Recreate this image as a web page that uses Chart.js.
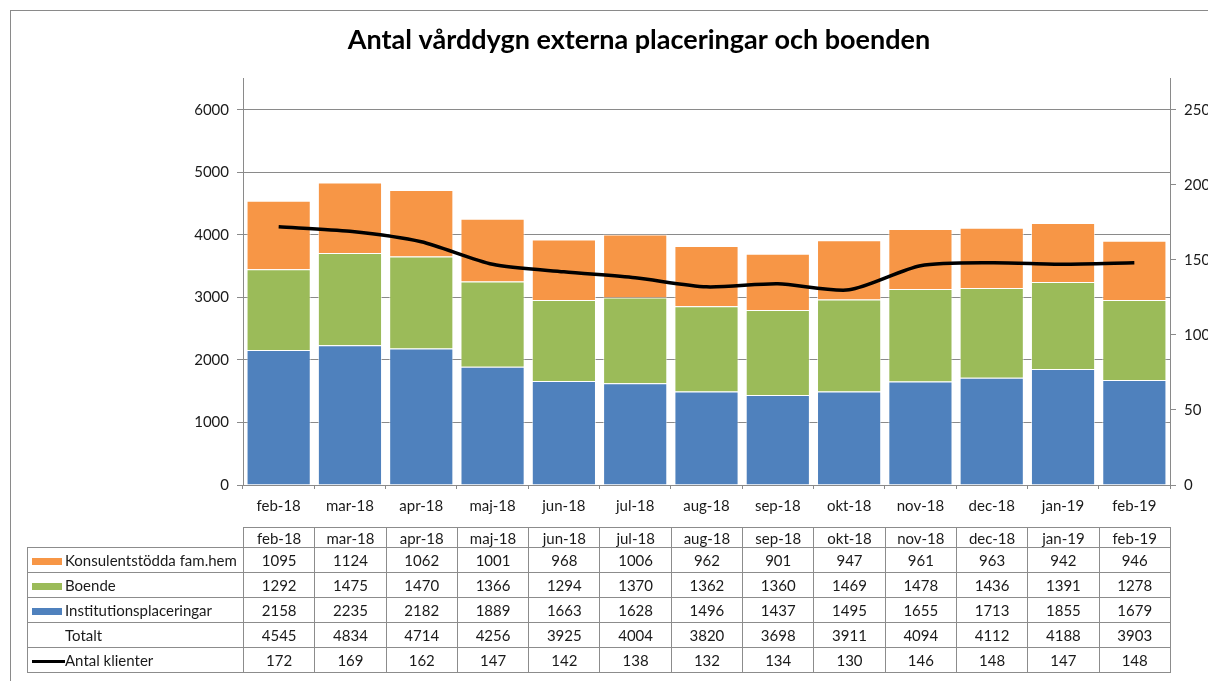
<!DOCTYPE html>
<html lang="sv">
<head>
    <meta charset="UTF-8">
    <title>Antal vårddygn externa placeringar och boenden</title>
    <script src="https://cdn.jsdelivr.net/npm/chart.js"></script>
    <style>
        html, body {
            margin: 0;
            padding: 0;
            width: 1208px;
            height: 681px;
            overflow: hidden;
            background: #fff;
            font-family: Lato, "Open Sans", sans-serif;
        }
        #frame {
            position: absolute;
            left: 10px;
            top: 10px;
            width: 1300px;
            height: 800px;
            border: 1px solid #8a8a8a;
            box-sizing: border-box;
        }
        #wrap {
            position: absolute;
            left: 0;
            top: 0;
            width: 1208px;
            height: 681px;
        }
        #dataTable {
            position: absolute;
            border-collapse: collapse;
            table-layout: fixed;
            font-size: 15px;
            color: #1a1a1a;
        }
        #dataTable td {
            border: 1px solid #8c8c8c;
            text-align: center;
            padding: 0;
            white-space: nowrap;
            overflow: hidden;
        }
        #dataTable td.lbl {
            text-align: left;
            padding-left: 4px;
        }
        #dataTable td.empty {
            border: none;
        }
        .key {
            display: inline-block;
            width: 30px;
            height: 7px;
            margin-right: 3px;
            vertical-align: middle;
            position: relative;
            top: -1px;
        }
        .keyLine {
            display: inline-block;
            width: 33px;
            height: 3px;
            background: #000;
            vertical-align: middle;
            position: relative;
            top: -1px;
        }
    </style>
</head>
<body>
    <div id="frame"></div>
    <div id="wrap"><canvas id="myChart" width="1208" height="681"></canvas></div>
    <table id="dataTable"></table>

    <script>
        const months = ['feb-18', 'mar-18', 'apr-18', 'maj-18', 'jun-18', 'jul-18', 'aug-18',
                        'sep-18', 'okt-18', 'nov-18', 'dec-18', 'jan-19', 'feb-19'];
        const konsulent = [1095, 1124, 1062, 1001, 968, 1006, 962, 901, 947, 961, 963, 942, 946];
        const boende = [1292, 1475, 1470, 1366, 1294, 1370, 1362, 1360, 1469, 1478, 1436, 1391, 1278];
        const institution = [2158, 2235, 2182, 1889, 1663, 1628, 1496, 1437, 1495, 1655, 1713, 1855, 1679];
        const totalt = [4545, 4834, 4714, 4256, 3925, 4004, 3820, 3698, 3911, 4094, 4112, 4188, 3903];
        const klienter = [172, 169, 162, 147, 142, 138, 132, 134, 130, 146, 148, 147, 148];
        const leftTicks = [0, 1000, 2000, 3000, 4000, 5000, 6000];
        const rightTicks = [0, 50, 100, 150, 200, 250];

        const orange = '#F79646';
        const green = '#9BBB59';
        const blue = '#4F81BD';
        const gridGray = '#8a8a8a';
        const fontFam = 'Lato, "Open Sans", sans-serif';

        // plot area in the picture: x 243..1170, y 78..485
        const leftMax = 6500;
        const rightMax = 250 * leftMax / 6000;
        const padLeft = 70;

        const ctx = document.getElementById('myChart').getContext('2d');
        const chart = new Chart(ctx, {
            data: {
                labels: months,
                datasets: [
                    {
                        type: 'line',
                        label: 'Antal klienter',
                        data: klienter,
                        yAxisID: 'y1',
                        borderColor: '#000',
                        borderWidth: 3.5,
                        pointRadius: 0,
                        tension: 0.25,
                        fill: false,
                        order: 0
                    },
                    {
                        type: 'bar',
                        label: 'Institutionsplaceringar',
                        data: institution,
                        backgroundColor: blue,
                        borderColor: 'rgba(255,255,255,0.6)',
                        borderWidth: 1,
                        stack: 's',
                        order: 1
                    },
                    {
                        type: 'bar',
                        label: 'Boende',
                        data: boende,
                        backgroundColor: green,
                        borderColor: 'rgba(255,255,255,0.6)',
                        borderWidth: 1,
                        stack: 's',
                        order: 1
                    },
                    {
                        type: 'bar',
                        label: 'Konsulentstödda fam.hem',
                        data: konsulent,
                        backgroundColor: orange,
                        borderColor: 'rgba(255,255,255,0.6)',
                        borderWidth: 1,
                        stack: 's',
                        order: 1
                    }
                ]
            },
            options: {
                responsive: false,
                animation: false,
                datasets: {
                    bar: { barPercentage: 0.9, categoryPercentage: 1.0 }
                },
                layout: {
                    padding: { top: 10, left: padLeft, right: 0, bottom: 166 }
                },
                plugins: {
                    legend: { display: false },
                    tooltip: { enabled: false },
                    title: {
                        display: true,
                        text: 'Antal vårddygn externa placeringar och boenden',
                        color: '#000',
                        font: { family: fontFam, size: 27, weight: 'bold', lineHeight: 1.2 },
                        padding: { top: 14, bottom: 22 }
                    }
                },
                scales: {
                    x: {
                        stacked: true,
                        grid: {
                            display: true,
                            drawOnChartArea: false,
                            offset: true,
                            tickLength: 4,
                            color: gridGray
                        },
                        border: { display: true, color: gridGray },
                        ticks: {
                            color: '#1a1a1a',
                            font: { family: fontFam, size: 15 },
                            padding: 8,
                            maxRotation: 0
                        },
                        afterFit: s => { s.height = 30; }
                    },
                    y: {
                        stacked: true,
                        position: 'left',
                        min: 0,
                        max: leftMax,
                        afterBuildTicks: s => { s.ticks = leftTicks.map(v => ({ value: v })); },
                        grid: { color: gridGray, tickLength: 6 },
                        border: { display: true, color: gridGray },
                        ticks: {
                            color: '#1a1a1a',
                            font: { family: fontFam, size: 15 },
                            padding: 8,
                            callback: v => String(v)
                        },
                        afterFit: s => { s.width = 243 - padLeft; }
                    },
                    y1: {
                        position: 'right',
                        min: 0,
                        max: rightMax,
                        afterBuildTicks: s => { s.ticks = rightTicks.map(v => ({ value: v })); },
                        grid: { drawOnChartArea: false, color: gridGray, tickLength: 6 },
                        border: { display: true, color: gridGray },
                        ticks: {
                            color: '#1a1a1a',
                            font: { family: fontFam, size: 15 },
                            padding: 8,
                            callback: v => String(v)
                        },
                        afterFit: s => { s.width = 38; }
                    }
                }
            }
        });

        // data table under the chart, columns follow the category axis
        function buildTable() {
            const area = chart.chartArea;
            const colW = (area.right - area.left) / months.length;
            const labelLeft = 27;
            const table = document.getElementById('dataTable');
            table.style.left = labelLeft + 'px';
            table.style.top = '527px';
            table.style.width = (area.right - labelLeft) + 'px';

            const rows = [
                { html: '<span class="key" style="background:' + orange + '"></span>Konsulentstödda fam.hem', vals: konsulent },
                { html: '<span class="key" style="background:' + green + '"></span>Boende', vals: boende },
                { html: '<span class="key" style="background:' + blue + '"></span>Institutionsplaceringar', vals: institution },
                { html: '<span class="key" style="background:transparent"></span>Totalt', vals: totalt },
                { html: '<span class="keyLine"></span>Antal klienter', vals: klienter }
            ];

            let html = '<colgroup><col style="width:' + (area.left - labelLeft) + 'px">';
            months.forEach(() => { html += '<col style="width:' + colW + 'px">'; });
            html += '</colgroup>';
            html += '<tr style="height:20px"><td class="empty"></td>';
            months.forEach(m => { html += '<td>' + m + '</td>'; });
            html += '</tr>';
            rows.forEach(r => {
                html += '<tr style="height:25px"><td class="lbl">' + r.html + '</td>';
                r.vals.forEach(v => { html += '<td>' + v + '</td>'; });
                html += '</tr>';
            });
            table.innerHTML = html;
        }

        buildTable();
    </script>
</body>
</html>
